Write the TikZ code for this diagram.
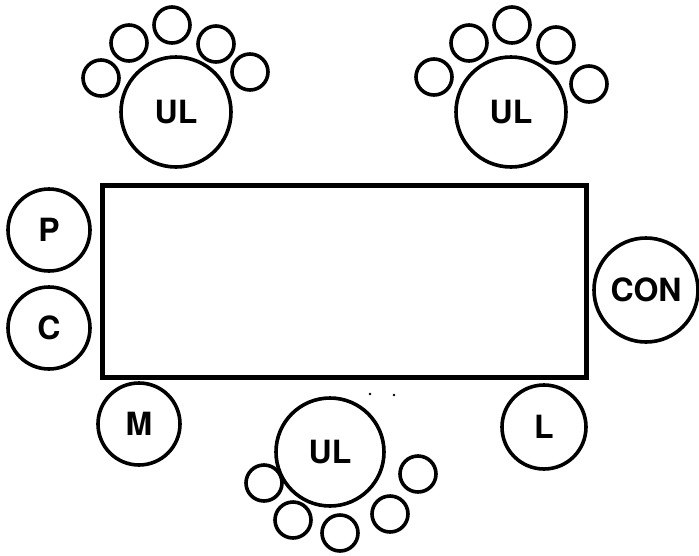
\documentclass[tikz,border=0pt]{standalone}
\usepackage{fontspec}
\setmainfont{TeX Gyre Heros}
\begin{document}
\begin{tikzpicture}[x=1pt,y=-1pt,
  seat/.style={draw=black,line width=3.6pt,circle,inner sep=0pt,minimum size=#1,
    font=\fontsize{32}{32}\selectfont\bfseries},
  small/.style={draw=black,line width=3.6pt,circle,inner sep=0pt,minimum size=36pt},
  tbl/.style={draw=black,line width=5pt}]
\useasboundingbox (0,0) rectangle (699,555);
% table
\node[tbl,minimum width=484pt,minimum height=192pt,inner sep=0pt] (table) at (344,281) {};
% top-left group
\node[seat=110pt] (ul1) at (176,112) {UL};
\node[small] (a1) at (101,78) {};
\node[small] (a2) at (129,43) {};
\node[small] (a3) at (172,25) {};
\node[small] (a4) at (216,44) {};
\node[small] (a5) at (250,72) {};
% top-right group
\node[seat=110pt] (ul2) at (511,112) {UL};
\node[small] (b1) at (434,77) {};
\node[small] (b2) at (469,43) {};
\node[small] (b3) at (512,25) {};
\node[small] (b4) at (556,45) {};
\node[small] (b5) at (589,84) {};
% bottom group
\node[seat=108pt] (ul3) at (330,452) {UL};
\node[small] (c1) at (264,483) {};
\node[small] (c2) at (293,520) {};
\node[small] (c3) at (340,533) {};
\node[small] (c4) at (390,514) {};
\node[small] (c5) at (418,474) {};
% side seats
\node[seat=82pt] (p) at (49,230) {P};
\node[seat=82pt] (c) at (49,328) {C};
\node[seat=82pt] (m) at (139,424) {M};
\node[seat=84pt] (l) at (544,427) {L};
\node[seat=104pt] (con) at (646,290) {CON};
% specks
\fill (370,394) circle (1.4pt);
\fill (394,395) circle (1.4pt);
\end{tikzpicture}
\end{document}
